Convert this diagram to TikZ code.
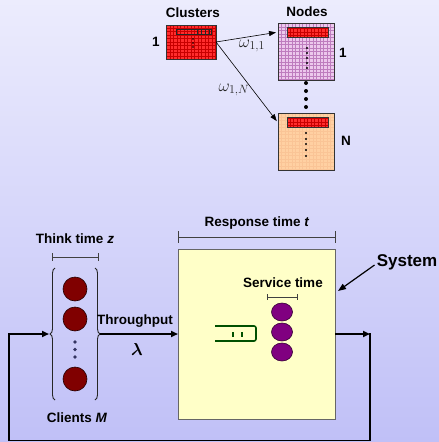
\documentclass[tikz,border=0pt]{standalone}
\usepackage{amsmath}
\usepackage{fontspec}
\setmainfont{Liberation Sans}
\usetikzlibrary{arrows.meta,decorations.pathreplacing,calc,shapes.geometric}
\definecolor{bgtop}{RGB}{236,236,253}
\definecolor{bgbot}{RGB}{192,192,247}
\definecolor{clred}{RGB}{255,45,45}
\definecolor{clredgrid}{RGB}{200,0,0}
\definecolor{nodeone}{RGB}{236,200,236}
\definecolor{nodeonegrid}{RGB}{190,125,190}
\definecolor{nodeN}{RGB}{255,208,162}
\definecolor{nodeNgrid}{RGB}{250,196,150}
\definecolor{sysyellow}{RGB}{255,255,200}
\definecolor{client}{RGB}{128,0,0}
\definecolor{server}{RGB}{128,0,128}
\definecolor{queuegreen}{RGB}{0,80,0}
\tikzset{
  lbl/.style={font=\fontsize{13.5}{16}\selectfont\bfseries, inner sep=0pt},
  biglbl/.style={font=\fontsize{17}{20}\selectfont\bfseries, inner sep=0pt},
  mathlbl/.style={font=\fontsize{17}{20}\selectfont, inner sep=0pt, text=black!85},
  plainbox/.style={rectangle, inner sep=0pt, outer sep=0pt, draw=black!80, line width=0.7pt},
  redgrid/.style={plainbox, fill=clred, path picture={\draw[line width=0.4pt, clredgrid, step=3.5pt] (path picture bounding box.south west) grid (path picture bounding box.north east);}},
  onegrid/.style={plainbox, fill=nodeone, path picture={\draw[line width=0.4pt, nodeonegrid, step=3.5pt] (path picture bounding box.south west) grid (path picture bounding box.north east);}},
  Ngrid/.style={plainbox, fill=nodeN, path picture={\draw[line width=0.3pt, nodeNgrid, step=3.5pt] (path picture bounding box.south west) grid (path picture bounding box.north east);}},
  thinarrow/.style={line width=0.6pt, -{Triangle[length=7pt,width=5pt]}},
  loopline/.style={line width=1.6pt, black},
  looparrow/.style={loopline, -{Triangle[length=7pt,width=6pt]}},
  dimline/.style={line width=0.8pt, black!75},
  bracestyle/.style={line width=0.9pt, black!85, decorate, decoration={brace, amplitude=5pt}},
  clientc/.style={circle, minimum size=24pt, inner sep=0pt, fill=client, draw=black!70!client, line width=0.6pt},
  serverc/.style={ellipse, minimum width=21pt, minimum height=18pt, inner sep=0pt, fill=server, draw=black!60!server, line width=0.6pt},
}
\begin{document}
\begin{tikzpicture}[x=1pt,y=-1pt]
\useasboundingbox (0,0) rectangle (439,442);
\shade[top color=bgtop, bottom color=bgbot] (0,0) rectangle (439,442);

% ---------- top part ----------
\node[lbl] (tclusters) at (193,13) {Clusters};
\node[lbl] (tnodes) at (307,12) {Nodes};
\node[redgrid, minimum width=50pt, minimum height=34pt] (cl) at (191,42) {};
\node[lbl] (tone) at (156,42) {1};
% bar inside cluster
\node[rectangle, draw=black!85, line width=0.6pt, minimum width=35pt, minimum height=5pt, inner sep=0pt] (clbar) at (193.5,31.5) {};
\foreach \x in {197,201,205,209} \draw[line width=0.6pt, black!85] (\x,29) -- (\x,34);
\foreach \y in {39,43,47} \fill (193,\y) circle (0.9pt);

\node[onegrid, minimum width=56pt, minimum height=57pt] (n1) at (306,51.5) {};
\node[Ngrid, minimum width=56pt, minimum height=57pt] (nN) at (306,141.5) {};
\node[redgrid, minimum width=41pt, minimum height=10pt] (b1) at (307.5,32) {};
\node[redgrid, minimum width=41pt, minimum height=10pt] (bN) at (307.5,122) {};
\foreach \y in {48,53,58,63,68} \fill (307,\y) circle (1.2pt);
\foreach \y in {133,139,144,150,156} \fill (306,\y) circle (1.2pt);
\foreach \y in {83,91,99,107} \fill (306,\y) circle (2pt);
\node[lbl] (tn1) at (343,53) {1};
\node[lbl] (tnN) at (346,141) {N};

\coordinate (a1) at ($(n1.north west)!0.16!(n1.south west)$);
\coordinate (aN) at ($(nN.north west)!0.17!(nN.south west)$);
\draw[thinarrow, shorten >=2pt] (cl.east) -- (a1);
\draw[thinarrow, shorten >=2pt] (cl.east) -- (aN);
\node[mathlbl] (w11) at (252,46) {$\omega_{1,1}$};
\node[mathlbl] (w1N) at (234,90) {$\omega_{1,N}$};

% ---------- bottom part ----------
\node[lbl] (tthink) at (75,239) {Think time \textit{z}};
\draw[dimline] (52,257) -- (98,257);
\draw[dimline] (52,253) -- (52,261);
\draw[dimline] (98,253) -- (98,261);

\draw[bracestyle] (55,400) -- (55,268);
\draw[bracestyle] (95,268) -- (95,400);
\coordinate (lbt) at (49,334);
\coordinate (rbt) at (100,334);

\node[clientc] (c1) at (75,289) {};
\node[clientc] (c2) at (75,319) {};
\node[clientc] (c3) at (75,379) {};
\foreach \y in {342,349.5,357} \fill[black!70!blue!60!gray] (75,\y) circle (1.8pt);
\node[lbl] (tclients) at (77,418) {Clients \textit{M}};

\node[plainbox, fill=sysyellow, draw=black!60, line width=0.8pt, minimum width=157pt, minimum height=170pt] (sys) at (256.5,334) {};
\node[lbl] (tresp) at (257,223) {Response time \textit{t}};
\draw[dimline] (sys.north west |- 0,237) -- (sys.north east |- 0,237);
\draw[dimline] (178,231) -- (178,243);
\draw[dimline] (335,231) -- (335,243);

\node[lbl] (tthr) at (135,321) {Throughput};
\node[font=\fontsize{17}{20}\selectfont, inner sep=0pt] (tlam) at (137,349) {$\boldsymbol{\lambda}$};
\draw[looparrow] (rbt) -- (sys.west);

\node[biglbl] (tsys) at (407,262) {System};
\coordinate (sysarr) at (338,291);
\draw[line width=1.2pt, -{Triangle[length=8pt,width=6pt]}] (tsys.west) ++(-2,3) -- (sysarr);

\node[lbl] (tserv) at (283,283) {Service time};
\draw[line width=0.6pt, black!75] (267,297) -- (297,297);
\draw[line width=0.6pt, black!75] (267,294) -- (267,300);
\draw[line width=0.6pt, black!75] (297,294) -- (297,300);
\node[serverc] (s1) at (282,312) {};
\node[serverc] (s2) at (282,332) {};
\node[serverc] (s3) at (282,352) {};

\draw[queuegreen, line width=1.6pt, rounded corners=2pt] (215,326) -- (256,326) -- (256,341) -- (215,341);
\draw[queuegreen, line width=1.6pt] (233,332) -- (233,337);
\draw[queuegreen, line width=1.6pt] (242,332) -- (242,337);

\coordinate (rc) at (370,334);
\coordinate (rb) at (370,440.5);
\coordinate (lb) at (9,440.5);
\coordinate (lc) at (9,334);
\draw[looparrow] (sys.east) -- (rc);
\draw[loopline] ($(rc)+(0,-0.8)$) -- (rb) -- (lb) -- ($(lc)+(0,-0.8)$);
\draw[looparrow] ($(lc)+(-0.8,0)$) -- (lbt);
\end{tikzpicture}
\end{document}
